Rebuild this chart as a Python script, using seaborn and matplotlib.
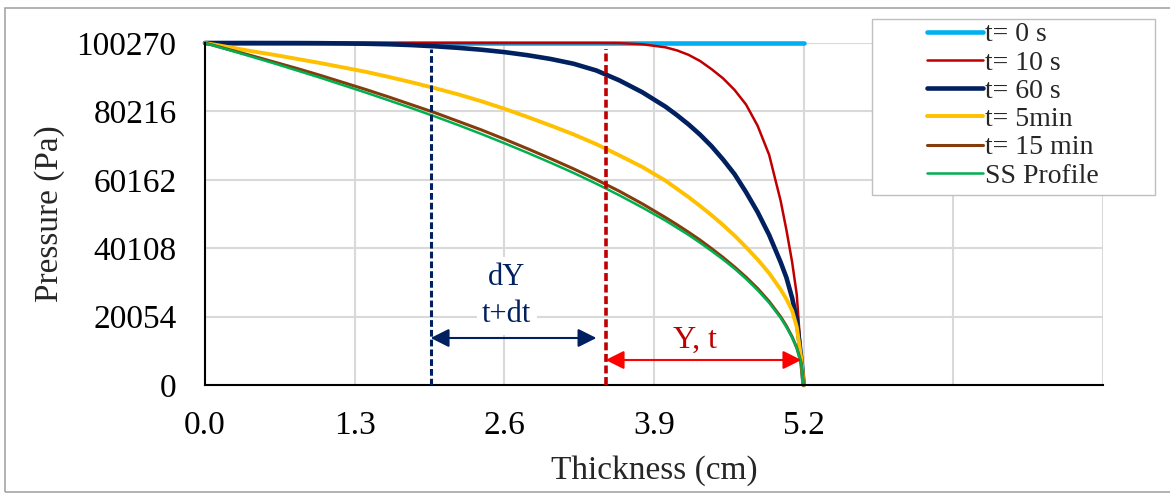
import numpy as np
import pandas as pd
import seaborn as sns
import matplotlib.pyplot as plt
from matplotlib.patches import Rectangle

# values
thickness = [0, 0.2, 0.4, 0.6, 0.8, 1.0, 1.2, 1.4, 1.6, 1.8, 2.0, 2.2, 2.4, 2.6, 2.8, 3.0,
             3.2, 3.4, 3.6, 3.8, 4.0, 4.1, 4.2, 4.3, 4.4, 4.5, 4.6, 4.7, 4.8, 4.9, 5.0,
             5.05, 5.1, 5.14, 5.18, 5.2]
p_0s = [100270] * len(thickness)
p_10s = [100270, 100270, 100270, 100270, 100270, 100270, 100270, 100270, 100270, 100270,
         100270, 100270, 100270, 100270, 100270, 100270, 100270, 100270, 100230, 99900,
         99000, 98100, 96800, 95000, 92600, 89900, 86500, 82200, 76000, 67500, 54000,
         45500, 36000, 26500, 7500, 0]
p_60s = [100270, 100270, 100270, 100260, 100250, 100220, 100150, 100050, 99900, 99650,
         99300, 98850, 98300, 97600, 96700, 95600, 94200, 92200, 89300, 85800,
         81600, 79100, 76400, 73400, 70000, 66100, 61800, 56500, 50700, 44000, 36000,
         31500, 25500, 19200, 7500, 0]
p_5min = [100270, 99100, 97900, 96800, 95600, 94400, 93100, 91800, 90300, 88700,
          87000, 85200, 83200, 81000, 78600, 76100, 73500, 70600, 67300, 63900,
          59900, 57500, 55100, 52500, 49800, 46900, 43800, 40400, 36800, 32800, 28000,
          25200, 21800, 17000, 7500, 0]
p_15min = [100270, 98400, 96600, 94700, 92800, 90800, 88700, 86600, 84400, 82100,
           79800, 77300, 74800, 72100, 69300, 66400, 63400, 60200, 56800, 53100,
           49100, 47000, 44800, 42500, 40000, 37400, 34600, 31600, 28300, 24500, 20000,
           17300, 14100, 10900, 6300, 0]
p_ss = [100270, 98300, 96300, 94300, 92200, 90100, 87900, 85700, 83400, 81100,
        78700, 76200, 73600, 70900, 68100, 65200, 62200, 59000, 55600, 52000,
        48200, 46100, 44000, 41700, 39300, 36800, 34100, 31100, 27800, 24100, 19700,
        17000, 13900, 10800, 6200, 0]

labels = ['t= 0 s', 't= 10 s', 't= 60 s', 't= 5min', 't= 15 min', 'SS Profile']
series = [p_0s, p_10s, p_60s, p_5min, p_15min, p_ss]
colors = ['#00B0F0', '#C00000', '#002060', '#FFC000', '#843C0C', '#00B050']
widths = [3.3, 1.8, 3.3, 2.8, 2.2, 1.8]

yticks = [0, 20054, 40108, 60162, 80216, 100270]
xticks = [0, 1.3, 2.6, 3.9, 5.2, 6.5, 7.8]
xticklabels = ['0.0', '1.3', '2.6', '3.9', '5.2', '', '']

front_new = 1.96   # blue dashed line
front_old = 3.48   # red dashed line

sns.set_theme(style='white')
plt.rcParams['font.family'] = ['Liberation Serif', 'DejaVu Serif']

fig = plt.figure(figsize=(11.7, 4.93), dpi=100)
ax = fig.add_axes([205 / 1170, 1 - 385 / 493, 898 / 1170, 342 / 493])

df = pd.DataFrame({'Thickness': thickness * len(labels),
                   'Pressure': np.concatenate(series),
                   'Profile': np.repeat(labels, len(thickness))})
for lab, c, w in zip(labels, colors, widths):
    sub = df[df.Profile == lab]
    sns.lineplot(x=sub['Thickness'], y=sub['Pressure'], color=c, lw=w, label=lab,
                 ax=ax, sort=False, legend=False, clip_on=False)

ax.set_xlim(0, 7.8)
ax.set_ylim(0, 100270)
ax.set_xticks(xticks)
ax.set_xticklabels(xticklabels)
ax.set_yticks(yticks)
ax.grid(True, color='#D9D9D9', lw=1.5)
ax.set_axisbelow(True)
for s in ['top', 'right']:
    ax.spines[s].set_visible(False)
for s in ['left', 'bottom']:
    ax.spines[s].set_color('black')
    ax.spines[s].set_linewidth(1.5)
ax.tick_params(direction='inout', length=13, width=1.5, labelsize=24, colors='black')
ax.tick_params(axis='y', pad=14)
ax.tick_params(axis='x', pad=12)
ax.set_xlabel('Thickness (cm)', fontsize=24, labelpad=10)
ax.set_ylabel('Pressure (Pa)', fontsize=24, labelpad=8)

# fronts and arrows
ax.vlines(front_new, 0, 98500, colors='#002060', linestyles=(0, (2.2, 1.0)), lw=2.2, zorder=3)
ax.vlines(front_old, 0, 98500, colors='#C00000', linestyles=(0, (2.2, 1.0)), lw=2.6, zorder=3)
ax.annotate('', xy=(front_new, 13780), xytext=(3.40, 13780),
            arrowprops=dict(arrowstyle='<|-|>', color='#002060', lw=1.5,
                            mutation_scale=28, shrinkA=0, shrinkB=0))
ax.annotate('', xy=(front_old, 7330), xytext=(5.18, 7330),
            arrowprops=dict(arrowstyle='<|-|>', color='#FF0000', lw=1.5,
                            mutation_scale=28, shrinkA=0, shrinkB=0))
ax.text(2.62, 26100, 'dY\nt+dt', color='#002060', fontsize=22, ha='center', va='center',
        linespacing=1.4, bbox=dict(facecolor='white', edgecolor='none', pad=4), zorder=2)
ax.text(4.26, 13000, 'Y, t', color='#C00000', fontsize=23, ha='center', va='center',
        bbox=dict(facecolor='white', edgecolor='none', pad=1), zorder=2)

# legend box
fig.add_artist(Rectangle((872 / 1170, 1 - 195 / 493), 283 / 1170, 176 / 493,
                         transform=fig.transFigure, facecolor='white',
                         edgecolor='#BFBFBF', lw=1, zorder=4))
handles = ax.get_lines()[:len(labels)]
leg = fig.legend(handles, labels, loc='upper left', bbox_to_anchor=(927 / 1170, 1 - 22 / 493),
                 frameon=False, borderpad=0, borderaxespad=0, fontsize=20,
                 handlelength=2.0, handletextpad=0.1, labelspacing=0.1)
leg.set_zorder(5)

# outer border
fig.add_artist(Rectangle((5 / 1170, 1 / 493), 1.1, 484 / 493, transform=fig.transFigure,
                         fill=False, edgecolor='#A6A6A6', lw=1.2, zorder=6, clip_on=False))

fig.savefig('out.png', dpi=100)
